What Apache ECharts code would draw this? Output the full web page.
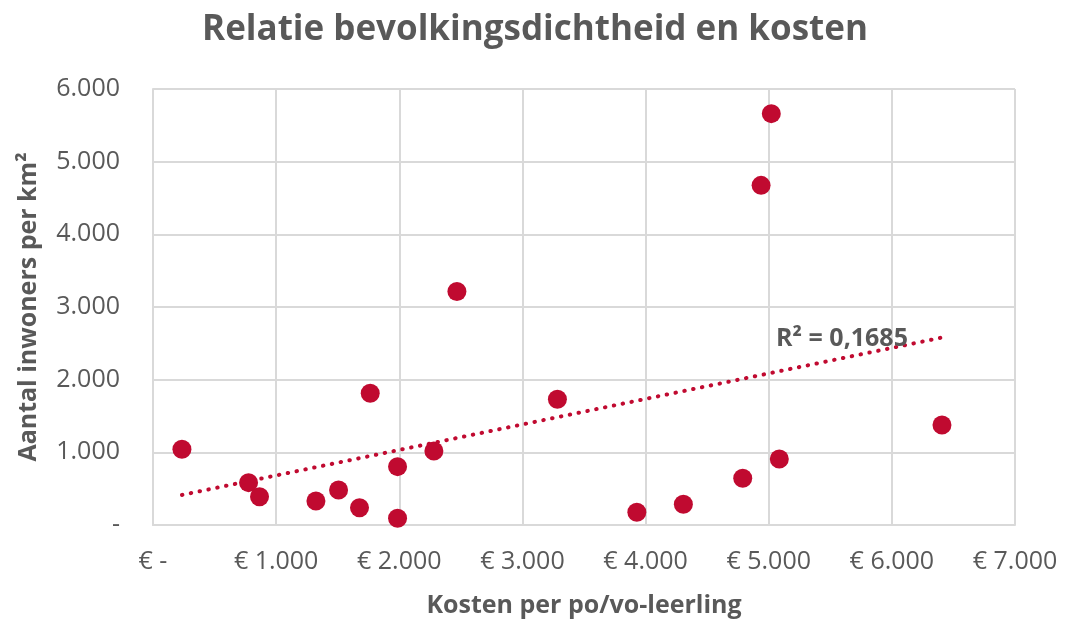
<!DOCTYPE html>
<html>
<head>
<meta charset="utf-8">
<title>Relatie bevolkingsdichtheid en kosten</title>
<script src="https://cdn.jsdelivr.net/npm/echarts@6/dist/echarts.min.js"></script>
<style>
	html, body {
		margin: 0;
		padding: 0;
		background: #ffffff;
	}

	#chart {
		width: 1070px;
		height: 626px;
	}
</style>
</head>
<body>
<div id="chart"></div>
<script>
	// kosten per leerling (euro) en inwoners per km2
	var kosten = [235, 776, 865, 1323, 1507, 1677, 1986, 1986, 1764, 2281, 2468, 3284, 3929, 4307, 4789, 5086, 4938, 5021, 6407];
	var dichtheid = [1043, 583, 390, 331, 482, 238, 92, 803, 1814, 1019, 3214, 1731, 175, 285, 643, 909, 4674, 5661, 1377];

	var xTickLabels = ['€ -', '€ 1.000', '€ 2.000', '€ 3.000', '€ 4.000', '€ 5.000', '€ 6.000', '€ 7.000'];
	var yTickLabels = ['-', '1.000', '2.000', '3.000', '4.000', '5.000', '6.000'];
	var r2Label = 'R² = 0,1685';

	var grey = '#595959';
	var red = '#c00a30';

	// lineaire trendlijn (kleinste kwadraten) over de punten
	function trend(xs, ys) {
		var n = xs.length, sx = 0, sy = 0, sxy = 0, sxx = 0;
		for (var i = 0; i < n; i++) {
			sx += xs[i]; sy += ys[i];
			sxy += xs[i] * ys[i]; sxx += xs[i] * xs[i];
		}
		var b = (n * sxy - sx * sy) / (n * sxx - sx * sx);
		var a = (sy - b * sx) / n;
		var x0 = Math.min.apply(null, xs), x1 = Math.max.apply(null, xs);
		return [[x0, a + b * x0], [x1, a + b * x1]];
	}

	var points = kosten.map(function(k, i) { return [k, dichtheid[i]]; });
	var line = trend(kosten, dichtheid);

	var myChart = echarts.init(document.getElementById('chart'));
	var option = {
		animation: false,
		title: {
			text: 'Relatie bevolkingsdichtheid en kosten',
			left: 'center',
			top: 8,
			textStyle: {
				fontFamily: 'Open Sans',
				fontSize: 35,
				fontWeight: 'bold',
				color: grey
			}
		},
		grid: {
			left: 153,
			right: 55,
			top: 89,
			bottom: 101
		},
		xAxis: {
			type: 'value',
			min: 0,
			max: 7000,
			interval: 1000,
			name: 'Kosten per po/vo-leerling',
			nameLocation: 'middle',
			nameGap: 68,
			nameTextStyle: {
				fontFamily: 'Open Sans',
				fontSize: 25,
				fontWeight: 'bold',
				color: grey
			},
			axisLine: { show: true, lineStyle: { color: '#d9d9d9', width: 2 } },
			axisTick: { show: false },
			axisLabel: {
				margin: 24,
				fontFamily: 'Open Sans',
				fontSize: 25,
				color: grey,
				formatter: function(v) { return xTickLabels[Math.round(v / 1000)]; }
			},
			splitLine: { lineStyle: { color: '#d9d9d9', width: 2 } }
		},
		yAxis: {
			type: 'value',
			min: 0,
			max: 6000,
			interval: 1000,
			name: 'Aantal inwoners per km²',
			nameLocation: 'middle',
			nameGap: 112,
			nameTextStyle: {
				fontFamily: 'Open Sans',
				fontSize: 25,
				fontWeight: 'bold',
				color: grey
			},
			axisLine: { show: true, lineStyle: { color: '#d9d9d9', width: 2 } },
			axisTick: { show: false },
			axisLabel: {
				margin: 33,
				fontFamily: 'Open Sans',
				fontSize: 25,
				color: grey,
				formatter: function(v) { return yTickLabels[Math.round(v / 1000)]; }
			},
			splitLine: { lineStyle: { color: '#d9d9d9', width: 2 } }
		},
		series: [{
			type: 'line',
			data: line,
			symbol: 'none',
			silent: true,
			lineStyle: {
				color: red,
				width: 4,
				type: [0.5, 8.5],
				cap: 'round'
			},
			markPoint: {
				symbol: 'circle',
				symbolSize: 0,
				data: [{ coord: [5060, 2560] }],
				label: {
					show: true,
					position: 'right',
					distance: 0,
					formatter: r2Label,
					fontFamily: 'Open Sans',
					fontSize: 25,
					fontWeight: 'bold',
					color: grey
				}
			}
		}, {
			type: 'scatter',
			data: points,
			symbolSize: 19,
			itemStyle: {
				color: red,
				opacity: 1
			}
		}]
	};
	myChart.setOption(option);
</script>
</body>
</html>
